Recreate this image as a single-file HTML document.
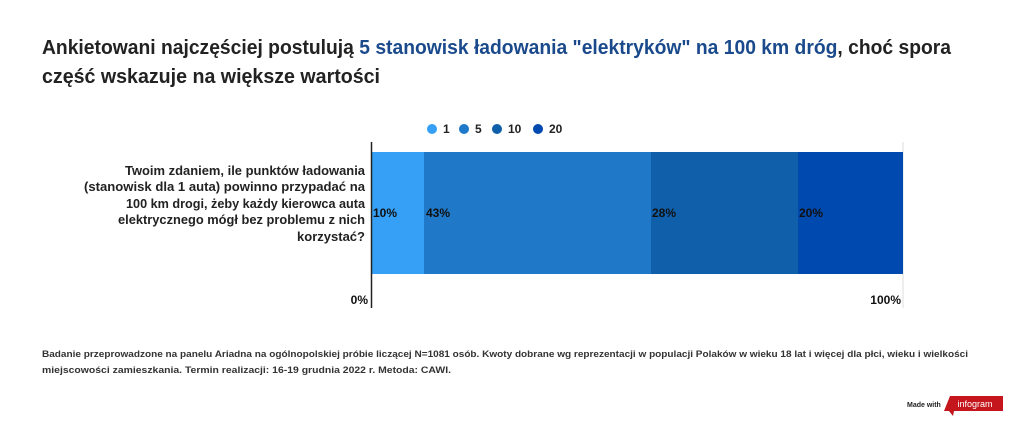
<!DOCTYPE html>
<html><head><meta charset="utf-8"><style>
html,body{margin:0;padding:0;background:#fff;}
svg{display:block;font-family:"Liberation Sans",sans-serif;font-weight:bold;}
</style></head><body>
<svg width="1024" height="425" viewBox="0 0 1024 425" xmlns="http://www.w3.org/2000/svg">
<rect width="1024" height="425" fill="#fff"/>
<text x="42" y="54" font-size="20" fill="#222" textLength="909" lengthAdjust="spacingAndGlyphs">Ankietowani najczęściej postulują <tspan fill="#1a4a8c">5 stanowisk ładowania "elektryków" na 100 km dróg</tspan>, choć spora</text>
<text x="42" y="83" font-size="20" fill="#222" textLength="338" lengthAdjust="spacingAndGlyphs">część wskazuje na większe wartości</text>
<g font-size="12" fill="#222">
<circle cx="432" cy="129" r="5" fill="#35a0f5"/><text x="443" y="133">1</text>
<circle cx="464" cy="129" r="5" fill="#1f78c8"/><text x="475" y="133">5</text>
<circle cx="497" cy="129" r="5" fill="#0f5fab"/><text x="508" y="133">10</text>
<circle cx="538" cy="129" r="5" fill="#0049ae"/><text x="549" y="133">20</text>
</g>
<line x1="903" y1="142" x2="903" y2="308" stroke="#ddd" stroke-width="1"/>
<rect x="372" y="152" width="52" height="122" fill="#35a0f5"/>
<rect x="424" y="152" width="227" height="122" fill="#1f78c8"/>
<rect x="651" y="152" width="147" height="122" fill="#0f5fab"/>
<rect x="798" y="152" width="105" height="122" fill="#0049ae"/>
<line x1="371.5" y1="142" x2="371.5" y2="308" stroke="#222" stroke-width="1.5"/>
<g font-size="12" fill="#111">
<text x="373" y="217">10%</text>
<text x="426" y="217">43%</text>
<text x="652" y="217">28%</text>
<text x="799" y="217">20%</text>
<text x="368" y="304" text-anchor="end">0%</text>
<text x="901" y="304" text-anchor="end">100%</text>
</g>
<g font-size="12.5" fill="#222">
<text x="125" y="175" textLength="240" lengthAdjust="spacingAndGlyphs">Twoim zdaniem, ile punktów ładowania</text>
<text x="84" y="191" textLength="281" lengthAdjust="spacingAndGlyphs">(stanowisk dla 1 auta) powinno przypadać na</text>
<text x="126" y="208" textLength="239" lengthAdjust="spacingAndGlyphs">100 km drogi, żeby każdy kierowca auta</text>
<text x="118" y="224" textLength="247" lengthAdjust="spacingAndGlyphs">elektrycznego mógł bez problemu z nich</text>
<text x="297" y="241" textLength="68" lengthAdjust="spacingAndGlyphs">korzystać?</text>
</g>
<g font-size="9.5" fill="#333">
<text x="42" y="357" textLength="926" lengthAdjust="spacingAndGlyphs">Badanie przeprowadzone na panelu Ariadna na ogólnopolskiej próbie liczącej N=1081 osób. Kwoty dobrane wg reprezentacji w populacji Polaków w wieku 18 lat i więcej dla płci, wieku i wielkości</text>
<text x="42" y="373" textLength="409" lengthAdjust="spacingAndGlyphs">miejscowości zamieszkania. Termin realizacji: 16-19 grudnia 2022 r. Metoda: CAWI.</text>
</g>
<text x="907" y="407" font-size="7" fill="#222">Made with</text>
<polygon points="950,396 1003,396 1003,411 954,411 953,416 949,411 944,411" fill="#c4161c"/>
<text x="975" y="407" font-size="9" font-weight="normal" fill="#fff" text-anchor="middle">infogram</text>
</svg>
</body></html>
